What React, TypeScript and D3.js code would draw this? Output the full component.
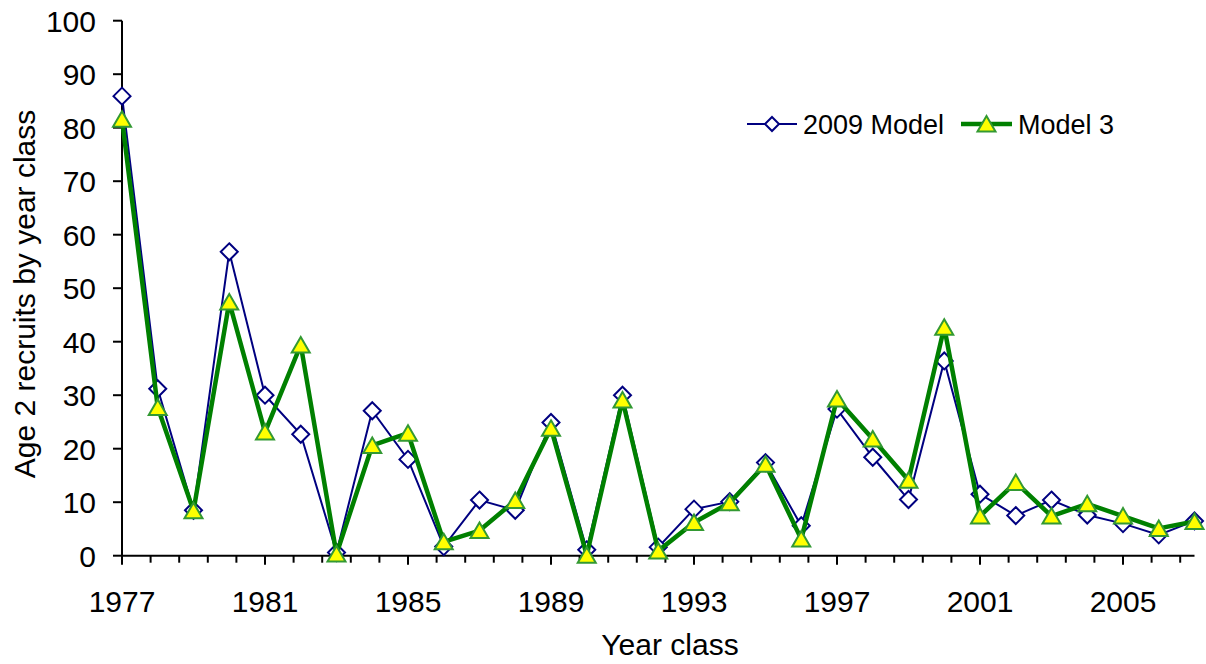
import React from "react";
import * as d3 from "d3";

const years: number[] = d3.range(1977, 2008);
const model2009: number[] = [85.9, 31.2, 8.5, 56.8, 30.0, 22.7, 0.6, 27.1, 18.0, 1.7, 10.4, 8.5, 24.9, 1.1, 30.0, 1.6, 8.7, 10.1, 17.4, 5.6, 27.4, 18.4, 10.5, 36.4, 11.5, 7.5, 10.4, 7.6, 6.0, 3.9, 6.5];
const model3: number[] = [81.6, 27.7, 8.4, 47.4, 23.1, 39.4, 0.3, 20.6, 22.9, 2.6, 4.7, 10.3, 23.8, 0.1, 29.1, 0.9, 6.2, 9.9, 17.1, 3.1, 29.3, 21.8, 14.1, 42.7, 7.4, 13.7, 7.4, 9.7, 7.4, 5.1, 6.4];
const xTickLabels: number[] = [1977, 1981, 1985, 1989, 1993, 1997, 2001, 2005];
const yTickLabels: number[] = [0, 10, 20, 30, 40, 50, 60, 70, 80, 90, 100];
const seriesNames: string[] = ["2009 Model", "Model 3"];

const W = 1206;
const H = 664;
const FONT = "'Liberation Sans', Arial, sans-serif";

export default function App() {
  const x = d3.scaleLinear().domain([1977, 2007]).range([122, 1194.5]);
  const y = d3.scaleLinear().domain([0, 100]).range([555.7, 20.7]);
  const minorTicks = d3.range(1977, 2007.001, 0.8).filter((t) => Math.abs((t - 1977) % 4) > 0.01 && Math.abs(((t - 1977) % 4) - 4) > 0.01);

  const line = d3
    .line<number>()
    .x((_, i) => x(years[i]))
    .y((d) => y(d));

  const diamond = (cx: number, cy: number, r = 8.5) =>
    `M${cx},${cy - r}L${cx + r},${cy}L${cx},${cy + r}L${cx - r},${cy}Z`;
  const triangle = (cx: number, cy: number) =>
    `M${cx},${cy - 8}L${cx + 9},${cy + 7.5}L${cx - 9},${cy + 7.5}Z`;

  const legY = 124;

  return (
    <svg
      width={W}
      height={H}
      style={{ position: "absolute", left: 0, top: 0, background: "#fff" }}
      fontFamily={FONT}
    >
      <rect x={0} y={0} width={W} height={H} fill="#fff" />
      {/* Y axis */}
      <line x1={122} x2={122} y1={y(100)} y2={y(0)} stroke="#000" strokeWidth={2} />
      {yTickLabels.map((t) => (
        <g key={"y" + t}>
          <line x1={113} x2={122} y1={y(t)} y2={y(t)} stroke="#000" strokeWidth={2} />
          <text x={96} y={y(t)} dy="0.36em" textAnchor="end" fontSize={30} fill="#000">
            {t}
          </text>
        </g>
      ))}
      {/* X axis */}
      <line x1={122} x2={x(2007)} y1={y(0)} y2={y(0)} stroke="#000" strokeWidth={2} />
      {xTickLabels.map((t) => (
        <g key={"x" + t}>
          <line x1={x(t)} x2={x(t)} y1={y(0)} y2={y(0) + 9} stroke="#000" strokeWidth={2} />
          <text x={x(t)} y={611.5} textAnchor="middle" fontSize={30} fill="#000">
            {t}
          </text>
        </g>
      ))}
      {minorTicks.map((t, i) => (
        <line key={"m" + i} x1={x(t)} x2={x(t)} y1={y(0)} y2={y(0) + 7} stroke="#000" strokeWidth={2} />
      ))}
      {/* Axis titles */}
      <text x={670} y={655} textAnchor="middle" fontSize={30} fill="#000">
        Year class
      </text>
      <text
        transform={`translate(35,${294}) rotate(-90)`}
        textAnchor="middle"
        fontSize={30}
        fill="#000"
      >
        Age 2 recruits by year class
      </text>

      {/* Series 1 */}
      <path d={line(model2009) || ""} fill="none" stroke="#000080" strokeWidth={2} />
      {model2009.map((v, i) => (
        <path key={"d" + i} d={diamond(x(years[i]), y(v))} fill="#fff" stroke="#000080" strokeWidth={2} />
      ))}
      {/* Series 2 */}
      <path d={line(model3) || ""} fill="none" stroke="#008000" strokeWidth={4.5} strokeLinejoin="round" />
      {model3.map((v, i) => (
        <path key={"t" + i} d={triangle(x(years[i]), y(v))} fill="#ffff00" stroke="#339933" strokeWidth={2} />
      ))}

      {/* Legend */}
      <line x1={747} x2={797} y1={legY} y2={legY} stroke="#000080" strokeWidth={2} />
      <path d={diamond(772, legY, 7)} fill="#fff" stroke="#000080" strokeWidth={2} />
      <text x={803} y={legY} dy="0.36em" fontSize={27} fill="#000">
        {seriesNames[0]}
      </text>
      <line x1={961} x2={1012} y1={legY} y2={legY} stroke="#008000" strokeWidth={4.5} />
      <path d={triangle(986.5, legY)} fill="#ffff00" stroke="#339933" strokeWidth={2} />
      <text x={1018} y={legY} dy="0.36em" fontSize={27} fill="#000">
        {seriesNames[1]}
      </text>
    </svg>
  );
}
